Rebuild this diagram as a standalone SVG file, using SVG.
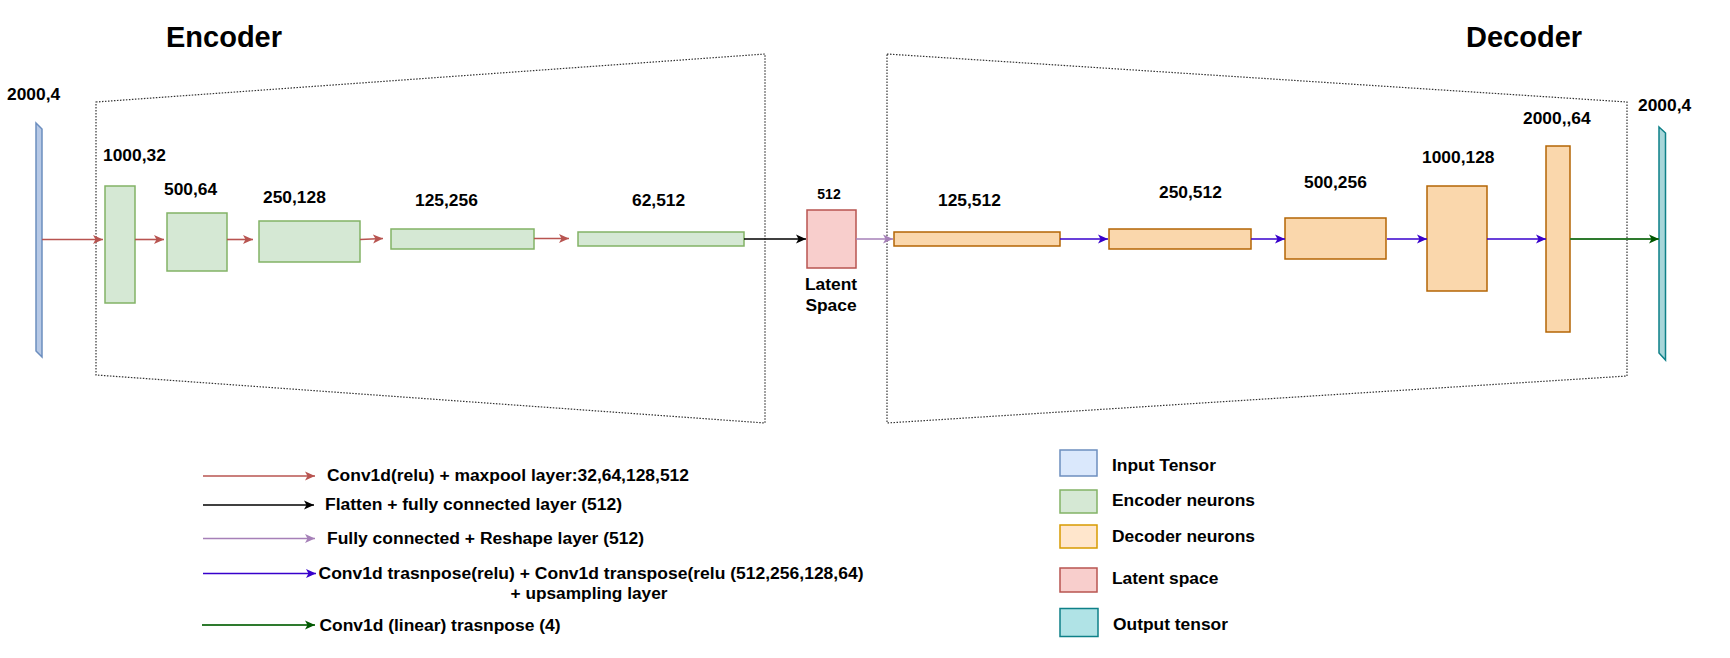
<svg xmlns="http://www.w3.org/2000/svg" width="1730" height="658" viewBox="0 0 1730 658">
<style>
text{font-family:"Liberation Sans",Arial,sans-serif;font-weight:bold;fill:#000}
.lbl{font-size:17.4px}
.title{font-size:29px}
.leg{font-size:17.4px}
.frame{fill:none;stroke:#333;stroke-width:1.2;stroke-dasharray:1.5,1.5}
.enc{fill:#d5e8d4;stroke:#82b366;stroke-width:1.5}
.dec{fill:#fad7ac;stroke:#b46504;stroke-width:1.5}
.lat{fill:#f8cecc;stroke:#b85450;stroke-width:1.5}
.red{stroke:#b85450;stroke-width:1.6;fill:none}
.blk{stroke:#000;stroke-width:1.6;fill:none}
.pur{stroke:#a680b8;stroke-width:1.6;fill:none}
.blu{stroke:#3700cc;stroke-width:1.6;fill:none}
.grn{stroke:#2e7a2e;stroke-width:1.8;fill:none}
</style>
<defs>
<marker id="mr" markerUnits="userSpaceOnUse" markerWidth="12" markerHeight="12" viewBox="0 0 12 12" refX="10" refY="6" orient="auto"><path d="M0,1.5 L10,6 L0,10.5 L2.5,6 Z" fill="#b85450"/></marker>
<marker id="mk" markerUnits="userSpaceOnUse" markerWidth="12" markerHeight="12" viewBox="0 0 12 12" refX="10" refY="6" orient="auto"><path d="M0,1.5 L10,6 L0,10.5 L2.5,6 Z" fill="#000"/></marker>
<marker id="mp" markerUnits="userSpaceOnUse" markerWidth="12" markerHeight="12" viewBox="0 0 12 12" refX="10" refY="6" orient="auto"><path d="M0,1.5 L10,6 L0,10.5 L2.5,6 Z" fill="#a680b8"/></marker>
<marker id="mb" markerUnits="userSpaceOnUse" markerWidth="12" markerHeight="12" viewBox="0 0 12 12" refX="10" refY="6" orient="auto"><path d="M0,1.5 L10,6 L0,10.5 L2.5,6 Z" fill="#3700cc"/></marker>
<marker id="mg" markerUnits="userSpaceOnUse" markerWidth="12" markerHeight="12" viewBox="0 0 12 12" refX="10" refY="6" orient="auto"><path d="M0,1.5 L10,6 L0,10.5 L2.5,6 Z" fill="#005700"/></marker>
</defs>
<rect width="1730" height="658" fill="#fff"/>

<text class="title" x="166" y="47">Encoder</text>
<text class="title" x="1466" y="47">Decoder</text>

<polygon class="frame" points="96,102 765,54 765,423 96,375"/>
<polygon class="frame" points="887,54 1627,102 1627,376 887,423"/>

<g id="input">
<polygon points="36,123 42,129 42,357 36,351" fill="#b7c9e6" stroke="#6c8ebf" stroke-width="1.5"/>
<text class="lbl" x="7" y="100">2000,4</text>
</g>
<g id="enc1"><rect class="enc" x="105" y="186" width="30" height="117"/><text class="lbl" x="103" y="161">1000,32</text></g>
<g id="enc2"><rect class="enc" x="167" y="213" width="60" height="58"/><text class="lbl" x="164" y="195">500,64</text></g>
<g id="enc3"><rect class="enc" x="259" y="221" width="101" height="41"/><text class="lbl" x="263" y="203">250,128</text></g>
<g id="enc4"><rect class="enc" x="391" y="229" width="143" height="20"/><text class="lbl" x="415" y="206">125,256</text></g>
<g id="enc5"><rect class="enc" x="578" y="232" width="166" height="14"/><text class="lbl" x="632" y="206">62,512</text></g>
<g id="latent">
<rect class="lat" x="807" y="210" width="49" height="58"/>
<text x="829" y="199" font-size="14" text-anchor="middle">512</text>
<text class="lbl" x="831" y="290" text-anchor="middle">Latent</text>
<text class="lbl" x="831" y="311" text-anchor="middle">Space</text>
</g>
<g id="dec1"><rect class="dec" x="894" y="232" width="166" height="14"/><text class="lbl" x="938" y="206">125,512</text></g>
<g id="dec2"><rect class="dec" x="1109" y="229" width="142" height="20"/><text class="lbl" x="1159" y="198">250,512</text></g>
<g id="dec3"><rect class="dec" x="1285" y="218" width="101" height="41"/><text class="lbl" x="1304" y="188">500,256</text></g>
<g id="dec4"><rect class="dec" x="1427" y="186" width="60" height="105"/><text class="lbl" x="1422" y="163">1000,128</text></g>
<g id="dec5"><rect class="dec" x="1546" y="146" width="24" height="186"/><text class="lbl" x="1523" y="124">2000,,64</text></g>
<g id="output">
<polygon points="1659,127 1665.5,133 1665.5,360 1659,353" fill="#a7d6d9" stroke="#0e8088" stroke-width="1.5"/>
<text class="lbl" x="1638" y="111">2000,4</text>
</g>

<g id="connectors">
<line class="red" x1="42" y1="239.5" x2="103" y2="239.5" marker-end="url(#mr)"/>
<line class="red" x1="135" y1="239.5" x2="164" y2="239.5" marker-end="url(#mr)"/>
<line class="red" x1="227" y1="239.5" x2="253" y2="239.5" marker-end="url(#mr)"/>
<line class="red" x1="360" y1="239.5" x2="383" y2="238.5" marker-end="url(#mr)"/>
<line class="red" x1="534" y1="238.5" x2="569" y2="238.5" marker-end="url(#mr)"/>
<line class="blk" x1="744" y1="239" x2="806" y2="239" marker-end="url(#mk)"/>
<line class="pur" x1="856" y1="239" x2="893" y2="239" marker-end="url(#mp)"/>
<line class="blu" x1="1060" y1="239" x2="1108" y2="239" marker-end="url(#mb)"/>
<line class="blu" x1="1251" y1="239" x2="1285" y2="239" marker-end="url(#mb)"/>
<line class="blu" x1="1387" y1="239" x2="1427" y2="239" marker-end="url(#mb)"/>
<line class="blu" x1="1487" y1="239" x2="1546" y2="239" marker-end="url(#mb)"/>
<line class="grn" x1="1570" y1="239" x2="1659" y2="239" marker-end="url(#mg)"/>
</g>

<g id="legend-arrows">
<line class="red" x1="203" y1="476" x2="315" y2="476" marker-end="url(#mr)"/>
<text class="leg" x="327" y="481" textLength="362" lengthAdjust="spacingAndGlyphs">Conv1d(relu) + maxpool layer:32,64,128,512</text>
<line class="blk" x1="203" y1="505" x2="314" y2="505" marker-end="url(#mk)"/>
<text class="leg" x="325" y="510" textLength="297" lengthAdjust="spacingAndGlyphs">Flatten + fully connected layer (512)</text>
<line class="pur" x1="203" y1="538.5" x2="315" y2="538.5" marker-end="url(#mp)"/>
<text class="leg" x="327" y="544" textLength="317" lengthAdjust="spacingAndGlyphs">Fully connected + Reshape layer (512)</text>
<line class="blu" x1="203" y1="573.5" x2="316" y2="573.5" marker-end="url(#mb)"/>
<text class="leg" x="318.5" y="578.5" textLength="545" lengthAdjust="spacingAndGlyphs">Conv1d trasnpose(relu) + Conv1d transpose(relu (512,256,128,64)</text>
<text class="leg" x="510.5" y="599" textLength="157" lengthAdjust="spacingAndGlyphs">+ upsampling layer</text>
<line class="grn" x1="202" y1="625" x2="315" y2="625" marker-end="url(#mg)"/>
<text class="leg" x="319.5" y="630.5" textLength="241" lengthAdjust="spacingAndGlyphs">Conv1d (linear) trasnpose (4)</text>
</g>

<g id="legend-boxes">
<rect x="1060" y="450" width="37" height="26" fill="#dae8fc" stroke="#6c8ebf" stroke-width="1.5"/>
<text class="lbl" x="1112" y="471">Input Tensor</text>
<rect x="1060" y="490" width="37" height="23" fill="#d5e8d4" stroke="#82b366" stroke-width="1.5"/>
<text class="lbl" x="1112" y="506">Encoder neurons</text>
<rect x="1060" y="525" width="37" height="23" fill="#ffe6cc" stroke="#d79b00" stroke-width="1.5"/>
<text class="lbl" x="1112" y="542">Decoder neurons</text>
<rect x="1060" y="568" width="37" height="24" fill="#f8cecc" stroke="#b85450" stroke-width="1.5"/>
<text class="lbl" x="1112" y="584">Latent space</text>
<rect x="1060" y="608.5" width="38" height="28" fill="#b0e3e6" stroke="#0e8088" stroke-width="1.5"/>
<text class="lbl" x="1113" y="630">Output tensor</text>
</g>
</svg>
